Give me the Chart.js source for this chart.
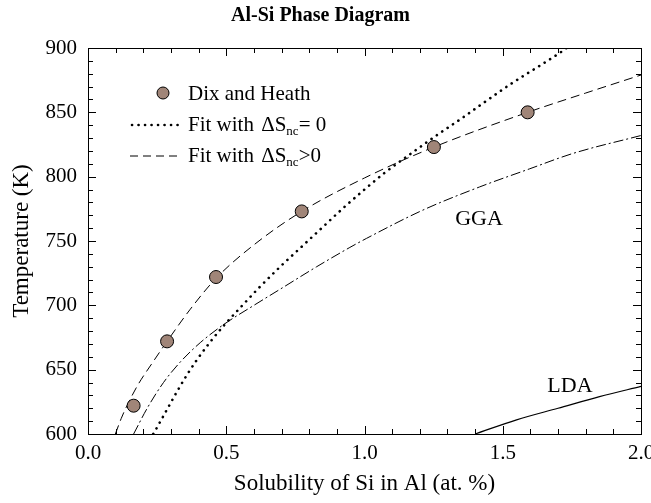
<!DOCTYPE html>
<html><head><meta charset="utf-8">
<script src="https://cdn.jsdelivr.net/npm/chart.js@4/dist/chart.umd.min.js"></script>
<style>html,body{margin:0;padding:0;background:#fff}</style>
</head><body>
<canvas id="c" width="651" height="503"></canvas>
<script>
// Dix and Heath measured points
const dixX = [0.165, 0.286, 0.463, 0.773, 1.251, 1.590];
const dixT = [622, 672, 722, 773, 823, 850];
// Fit with dS_nc = 0 (dotted)
const fit0X = [0.236, 0.252, 0.283, 0.322, 0.358, 0.395, 0.440, 0.490, 0.550, 0.620, 0.700, 0.780, 0.850, 0.920, 1.000, 1.073, 1.175, 1.260, 1.356, 1.428, 1.536, 1.632, 1.705, 1.731];
const fit0T = [600, 606, 618, 633, 646, 658, 671, 684, 698, 714, 731, 747, 761, 775, 790, 803, 819, 832, 846, 857, 873, 886, 896, 900];
// Fit with dS_nc > 0 (dashed)
const fitPX = [0.099, 0.120, 0.141, 0.180, 0.235, 0.286, 0.370, 0.463, 0.600, 0.773, 1.000, 1.251, 1.590, 1.800, 2.000];
const fitPT = [600, 612, 622, 638, 656, 672, 697, 721, 747, 773, 799, 823, 850, 865, 879];
// GGA (dash-dot)
const ggaX = [0.165, 0.214, 0.273, 0.334, 0.406, 0.490, 0.600, 0.706, 0.827, 0.947, 1.007, 1.211, 1.416, 1.596, 1.753, 2.000];
const ggaT = [600, 620, 640, 656, 671, 685, 700, 714, 730, 745, 752, 774, 792, 806, 818, 832];
// LDA (solid)
const ldaX = [1.40, 1.55, 1.70, 1.85, 2.00];
const ldaT = [600, 611, 620, 629, 637];
// axis ticks
const xTickVals = [0.0, 0.5, 1.0, 1.5, 2.0];
const yTickVals = [600, 650, 700, 750, 800, 850, 900];

const pts = (xs, ys) => xs.map((x, i) => ({x: x, y: ys[i]}));
const SERIF = '"Liberation Serif", "Times New Roman", serif';
const markerFill = '#a08578';

const framePlugin = {
  id: 'frame',
  afterDraw(chart) {
    const ctx = chart.ctx, a = chart.chartArea;
    const xs = chart.scales.x, ys = chart.scales.y;
    ctx.save();
    ctx.strokeStyle = '#000'; ctx.lineWidth = 1;
    ctx.strokeRect(Math.round(a.left) + 0.5, Math.round(a.top) + 0.5, Math.round(a.right - a.left), Math.round(a.bottom - a.top));
    ctx.beginPath();
    for (let i = 0; i <= 20; i++) {
      const v = i / 10;
      const px = Math.round(xs.getPixelForValue(v)) + 0.5;
      const len = (i % 5 === 0) ? 8 : 5;
      ctx.moveTo(px, a.bottom); ctx.lineTo(px, a.bottom - len);
      ctx.moveTo(px, a.top); ctx.lineTo(px, a.top + len);
    }
    for (let t = 600; t <= 900; t += 10) {
      const py = Math.round(ys.getPixelForValue(t)) + 0.5;
      const len = (t % 50 === 0) ? 8 : 5;
      ctx.moveTo(a.left, py); ctx.lineTo(a.left + len, py);
      ctx.moveTo(a.right, py); ctx.lineTo(a.right - len, py);
    }
    ctx.stroke();

    // region labels
    ctx.fillStyle = '#000';
    ctx.font = '22px ' + SERIF;
    ctx.textAlign = 'center'; ctx.textBaseline = 'middle';
    ctx.fillText('GGA', xs.getPixelForValue(1.414), ys.getPixelForValue(767));
    ctx.fillText('LDA', xs.getPixelForValue(1.743), ys.getPixelForValue(637));

    // legend
    ctx.textAlign = 'left'; ctx.textBaseline = 'alphabetic';
    const lx0 = 130, lx1 = 181, tx = 188;
    // item 1
    ctx.beginPath(); ctx.arc(163, 93, 6, 0, Math.PI * 2);
    ctx.fillStyle = markerFill; ctx.fill();
    ctx.strokeStyle = '#000'; ctx.lineWidth = 1; ctx.stroke();
    ctx.fillStyle = '#000';
    ctx.font = '21px ' + SERIF;
    ctx.fillText('Dix and Heath', tx, 100);
    // item 2 dotted
    ctx.save();
    ctx.strokeStyle = '#000'; ctx.lineWidth = 2.6; ctx.lineCap = 'round';
    ctx.setLineDash([0.1, 6.4]);
    ctx.beginPath(); ctx.moveTo(lx0 + 2, 125); ctx.lineTo(lx1, 125); ctx.stroke();
    ctx.restore();
    const drawFit = (y, rel) => {
      ctx.font = '21px ' + SERIF;
      let x = tx;
      ctx.fillText('Fit with ', x, y); x += ctx.measureText('Fit with ').width + 2;
      ctx.fillText('\u0394S', x, y); x += ctx.measureText('\u0394S').width;
      ctx.font = '13px ' + SERIF;
      ctx.fillText('nc', x, y + 4); x += ctx.measureText('nc').width;
      ctx.font = '21px ' + SERIF;
      ctx.fillText(rel, x, y);
    };
    drawFit(131, '= 0');
    // item 3 dashed
    ctx.save();
    ctx.strokeStyle = '#000'; ctx.lineWidth = 1;
    ctx.setLineDash([8, 5]);
    ctx.beginPath(); ctx.moveTo(lx0, 156); ctx.lineTo(lx1, 156); ctx.stroke();
    ctx.restore();
    drawFit(162, '>0');
    ctx.restore();
  }
};

new Chart(document.getElementById('c'), {
  type: 'scatter',
  data: {
    datasets: [
      { label: 'Fit with dS_nc = 0', data: pts(fit0X, fit0T), showLine: true, pointRadius: 0,
        borderColor: '#000', borderWidth: 2.6, borderDash: [0.1, 6.4], borderCapStyle: 'round',
        cubicInterpolationMode: 'monotone', order: 3 },
      { label: 'Fit with dS_nc > 0', data: pts(fitPX, fitPT), showLine: true, pointRadius: 0,
        borderColor: '#000', borderWidth: 1, borderDash: [9, 5],
        cubicInterpolationMode: 'monotone', order: 4 },
      { label: 'GGA', data: pts(ggaX, ggaT), showLine: true, pointRadius: 0,
        borderColor: '#000', borderWidth: 1, borderDash: [10, 3, 2, 3],
        cubicInterpolationMode: 'monotone', order: 5 },
      { label: 'LDA', data: pts(ldaX, ldaT), showLine: true, pointRadius: 0,
        borderColor: '#000', borderWidth: 1.2,
        cubicInterpolationMode: 'monotone', order: 6 },
      { label: 'Dix and Heath', data: pts(dixX, dixT), showLine: false, pointRadius: 6.5,
        pointBackgroundColor: markerFill, pointBorderColor: '#000', pointBorderWidth: 1, order: 1 }
    ]
  },
  options: {
    responsive: false,
    animation: false,
    devicePixelRatio: 1,
    layout: { padding: { top: 0, right: 10, bottom: 0, left: 0 } },
    plugins: {
      legend: { display: false },
      tooltip: { enabled: false },
      title: { display: true, text: 'Al-Si Phase Diagram', color: '#000',
        font: { family: SERIF, size: 20, weight: 'bold' }, padding: { top: 4, bottom: 20 } }
    },
    scales: {
      x: {
        type: 'linear', min: 0, max: 2,
        grid: { display: false, drawTicks: false },
        border: { display: false },
        afterBuildTicks(s) { s.ticks = xTickVals.map(v => ({ value: v })); },
        afterFit(s) { s.height = 69; s.paddingLeft = 0; s.paddingRight = 0; },
        ticks: { color: '#000', font: { family: SERIF, size: 21 }, padding: 7,
          maxRotation: 0, autoSkip: false, callback: v => Number(v).toFixed(1) },
        title: { display: true, text: 'Solubility of Si in Al (at. %)', color: '#000',
          font: { family: SERIF, size: 23 }, padding: { top: 0, bottom: 5 } }
      },
      y: {
        type: 'linear', min: 600, max: 900,
        grid: { display: false, drawTicks: false },
        border: { display: false },
        afterBuildTicks(s) { s.ticks = yTickVals.map(v => ({ value: v })); },
        afterFit(s) { s.width = 88; s.paddingTop = 0; s.paddingBottom = 0; },
        ticks: { color: '#000', font: { family: SERIF, size: 21 }, padding: 11, autoSkip: false },
        title: { display: true, text: 'Temperature (K)', color: '#000',
          font: { family: SERIF, size: 23 }, padding: { top: 8, bottom: 0 } }
      }
    }
  },
  plugins: [framePlugin]
});
</script>
</body></html>
